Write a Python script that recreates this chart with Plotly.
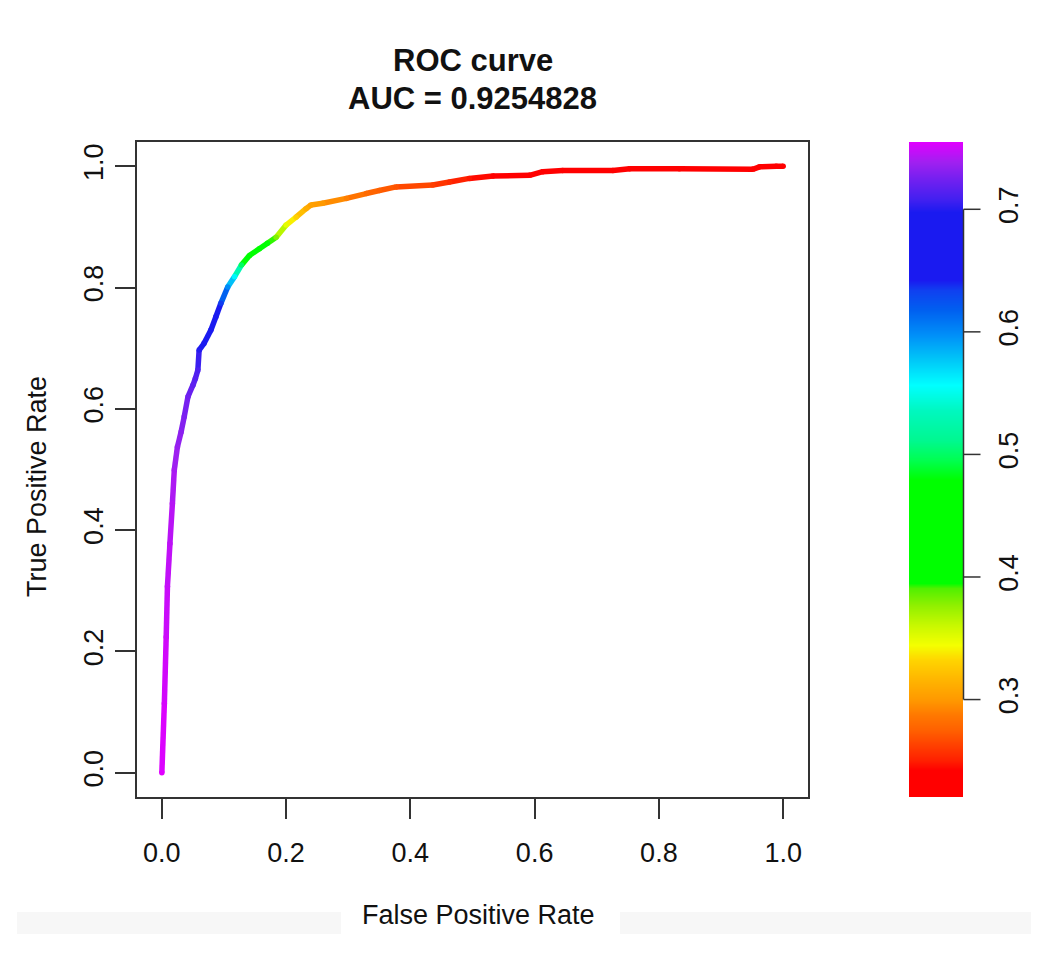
import plotly.graph_objects as go
from plotly.colors import sample_colorscale

# ROC curve points (false positive rate, true positive rate) and the cutoff at each point
fpr = [0.000, 0.004, 0.007, 0.009, 0.013, 0.017, 0.020, 0.025, 0.031, 0.036,
       0.042, 0.050, 0.054, 0.058, 0.060, 0.068, 0.079, 0.087, 0.095, 0.106,
       0.117, 0.128, 0.141, 0.157, 0.170, 0.184, 0.200, 0.216, 0.232, 0.240,
       0.259, 0.297, 0.329, 0.350, 0.377, 0.436, 0.463, 0.495, 0.533, 0.592,
       0.613, 0.645, 0.726, 0.753, 0.833, 0.951, 0.962, 0.989, 1.000]
tpr = [0.000, 0.114, 0.224, 0.307, 0.378, 0.444, 0.499, 0.537, 0.562, 0.587,
       0.620, 0.639, 0.650, 0.664, 0.697, 0.708, 0.730, 0.752, 0.774, 0.801,
       0.818, 0.837, 0.853, 0.864, 0.873, 0.883, 0.903, 0.916, 0.930, 0.936,
       0.939, 0.947, 0.955, 0.960, 0.966, 0.969, 0.974, 0.980, 0.984, 0.985,
       0.991, 0.993, 0.993, 0.996, 0.996, 0.995, 0.999, 1.000, 1.000]
cutoff = [0.755, 0.752, 0.750, 0.748, 0.746, 0.744, 0.740, 0.736, 0.732, 0.728,
          0.724, 0.718, 0.715, 0.712, 0.700, 0.690, 0.675, 0.655, 0.635, 0.600,
          0.560, 0.500, 0.460, 0.430, 0.405, 0.380, 0.350, 0.330, 0.312, 0.305,
          0.300, 0.290, 0.280, 0.275, 0.270, 0.262, 0.255, 0.248, 0.242, 0.238,
          0.235, 0.232, 0.229, 0.227, 0.225, 0.223, 0.222, 0.221, 0.2205]

auc_text = "AUC = 0.9254828"
axis_ticks = [0.0, 0.2, 0.4, 0.6, 0.8, 1.0]
cbar_ticks = [0.3, 0.4, 0.5, 0.6, 0.7]

cmin, cmax = 0.2205, 0.7549

# rainbow palette keyed by cutoff value
palette = [
    (0.2205, "#FF0000"), (0.2424, "#FF0000"), (0.2506, "#FF2000"),
    (0.2628, "#FF4000"), (0.2751, "#FF6000"), (0.2873, "#FF7800"),
    (0.2995, "#FF9800"), (0.3158, "#FFB400"), (0.3322, "#FFD400"),
    (0.3444, "#F4FF00"), (0.3607, "#C8F800"), (0.3770, "#90F000"),
    (0.3909, "#50F000"), (0.3950, "#00FF00"), (0.4790, "#00FF00"),
    (0.4953, "#00FF50"), (0.5116, "#00F890"), (0.5361, "#00F8C0"),
    (0.5565, "#00FFFF"), (0.5770, "#00C8F8"), (0.5974, "#0090F8"),
    (0.6178, "#0060F0"), (0.6341, "#1040F0"), (0.6423, "#1A1AF0"),
    (0.6978, "#1A1AF0"), (0.7076, "#4020F0"), (0.7239, "#7020F0"),
    (0.7386, "#A020F0"), (0.7549, "#E000FF"),
]
palette_values = [v for v, _ in palette]
colorscale = [[(v - cmin) / (cmax - cmin), c] for v, c in palette]


def norm(v):
    return min(max((v - cmin) / (cmax - cmin), 0.0), 1.0)


def color_of(v):
    return sample_colorscale(colorscale, [norm(v)])[0]


FONT = "Liberation Sans, Arial, Helvetica, sans-serif"
INK = "#111111"
FRAME = "#333333"

# figure geometry in pixels: plot panel 137..808, colour bar 909..963
W, H = 1043, 955
ML, MR, MT, MB = 137, 80, 142, 158
PW, PH = W - ML - MR, H - MT - MB
PANEL_RIGHT = 808
BAR_LEFT = 909
BAR_RIGHT = W - MR
CBAR_TICKLEN = 17


def px_x(p):
    return (p - ML) / PW


def px_y(p):
    return (H - MB - p) / PH


fig = go.Figure()

# curve drawn segment by segment, each coloured by its cutoff
for i in range(len(fpr) - 1):
    fig.add_trace(go.Scatter(
        x=[fpr[i], fpr[i + 1]], y=[tpr[i], tpr[i + 1]],
        mode="lines",
        line=dict(color=color_of((cutoff[i] + cutoff[i + 1]) / 2), width=5.5),
        hoverinfo="skip", showlegend=False,
    ))

# joints of the curve
fig.add_trace(go.Scatter(
    x=fpr, y=tpr, mode="markers", showlegend=False,
    marker=dict(size=5.5, color=[color_of(c) for c in cutoff]),
    hoverinfo="skip",
))

# colour key: the cutoff scale painted as a vertical strip
fig.add_trace(go.Heatmap(
    x=[0, 1], y=palette_values,
    z=[[v, v] for v in palette_values],
    colorscale=colorscale, zmin=cmin, zmax=cmax, zsmooth="best",
    showscale=False, hoverinfo="skip", xaxis="x2", yaxis="y2",
))

axis_common = dict(
    showgrid=False, zeroline=False,
    showline=True, mirror=True, linecolor=FRAME, linewidth=1.5,
    ticks="outside", ticklen=20, tickwidth=1.5, tickcolor=FRAME,
    tickfont=dict(family=FONT, size=27, color=INK),
    tickmode="array", tickvals=axis_ticks,
    ticktext=[f"{t:.1f}" for t in axis_ticks],
    range=[-0.04, 1.04], fixedrange=True,
)

fig.update_layout(
    width=W, height=H,
    margin=dict(l=ML, r=MR, t=MT, b=MB, pad=0, autoexpand=False),
    paper_bgcolor="white", plot_bgcolor="white",
    xaxis=dict(**axis_common, domain=[0, px_x(PANEL_RIGHT)], ticklabelstandoff=11),
    yaxis=dict(**axis_common, tickangle=-90, ticklabelstandoff=1),
    xaxis2=dict(domain=[px_x(BAR_LEFT), 1], range=[0, 1], visible=False,
                fixedrange=True),
    yaxis2=dict(
        anchor="x2", side="right", range=[cmin, cmax], fixedrange=True,
        showgrid=False, zeroline=False, showline=False,
        tickmode="array", tickvals=cbar_ticks,
        ticktext=[f"{t:.1f}" for t in cbar_ticks],
        ticks="", tickangle=-90, ticklabelstandoff=10 + CBAR_TICKLEN,
        tickfont=dict(family=FONT, size=27, color=INK),
    ),
    showlegend=False,
)

# axis line of the colour key, spanning its first to last tick, with tick marks
line_x = px_x(BAR_RIGHT + 0.5)
fig.add_shape(
    type="line", xref="paper", yref="paper",
    x0=line_x, x1=line_x, y0=norm(cbar_ticks[0]), y1=norm(cbar_ticks[-1]),
    line=dict(color=FRAME, width=1.5),
)
for t in cbar_ticks:
    fig.add_shape(
        type="line", xref="paper", yref="paper",
        x0=line_x, x1=px_x(BAR_RIGHT + 0.5 + CBAR_TICKLEN),
        y0=norm(t), y1=norm(t),
        line=dict(color=FRAME, width=1.5),
    )

# faint bands along the bottom edge
for x0, x1 in [(17, 341), (620, 1031)]:
    fig.add_shape(
        type="rect", xref="paper", yref="paper", layer="below",
        x0=px_x(x0), x1=px_x(x1), y0=px_y(934), y1=px_y(912),
        fillcolor="#F7F7F7", line=dict(width=0),
    )

# titles
title_x = px_x((ML + PANEL_RIGHT) / 2)
fig.add_annotation(
    text="<b>ROC curve</b>", xref="paper", yref="paper",
    x=title_x, y=px_y(60), xanchor="center", yanchor="middle",
    showarrow=False, font=dict(family=FONT, size=31, color=INK),
)
fig.add_annotation(
    text=f"<b>{auc_text}</b>", xref="paper", yref="paper",
    x=title_x, y=px_y(98), xanchor="center", yanchor="middle",
    showarrow=False, font=dict(family=FONT, size=31, color=INK),
)
fig.add_annotation(
    text="False Positive Rate", xref="paper", yref="paper",
    x=px_x(478), y=px_y(915), xanchor="center", yanchor="middle",
    showarrow=False, font=dict(family=FONT, size=27, color=INK),
)
fig.add_annotation(
    text="True Positive Rate", xref="paper", yref="paper",
    x=px_x(37), y=px_y(487), xanchor="center", yanchor="middle",
    textangle=-90, showarrow=False, font=dict(family=FONT, size=27, color=INK),
)

fig.write_html("out.html")
